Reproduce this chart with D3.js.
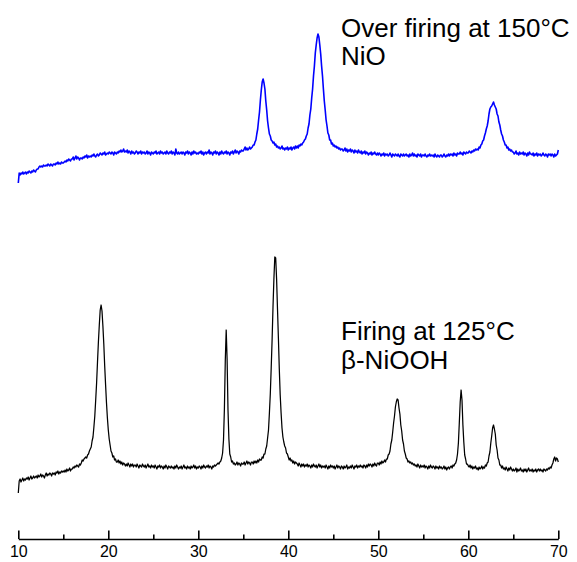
<!DOCTYPE html>
<html>
<head>
<meta charset="utf-8">
<script src="https://cdn.jsdelivr.net/npm/d3@7"></script>
<style>
  html, body { margin: 0; padding: 0; background: #fff; }
  svg { display: block; }
  text { font-family: "Liberation Sans", Arial, Helvetica, sans-serif; }
</style>
</head>
<body>
<svg id="chart" width="577" height="562"></svg>
<script>
// ---- Data (2θ grid: 10° to 70°, step 0.1°) ----
const twoThetaStart = 10;
const twoThetaStep = 0.1;

// β-NiOOH, firing at 125 °C (intensity, a.u.)
const niooh125 = [
  7,19,21,18,20,22,19,21,20,22,
  21,23,20,22,24,21,22,24,22,23,
  24,22,25,23,24,26,23,25,24,22,
  25,27,24,26,25,27,26,24,27,26,
  27,25,28,27,29,26,28,27,29,28,
  29,28,30,28,31,29,30,32,29,31,
  31,33,32,34,33,35,34,33,36,35,
  37,40,39,41,42,43,42,45,46,49,
  51,53,59,63,73,84,100,117,138,158,
  175,190,195,189,174,156,134,115,97,82,
  70,61,55,49,47,43,44,40,41,38,
  38,40,37,39,36,38,35,37,36,34,
  36,34,37,35,33,36,34,36,33,35,
  35,33,36,34,32,35,34,33,36,34,
  33,35,32,34,36,33,34,32,35,33,
  34,32,35,33,31,34,33,35,32,34,
  33,31,34,32,35,33,31,34,33,32,
  34,32,33,31,34,32,35,33,31,33,
  32,34,31,33,35,32,33,31,34,32,
  33,31,34,32,33,35,32,34,31,33,
  32,34,33,31,34,32,35,33,32,34,
  33,35,32,34,33,31,34,33,35,34,
  35,36,37,36,38,39,42,47,60,91,
  140,170,141,90,61,46,43,38,39,36,
  37,35,36,38,35,37,36,34,37,36,
  36,38,35,37,39,36,38,37,35,38,
  38,36,39,37,39,37,40,38,41,40,
  40,43,42,46,46,51,54,62,70,87,
  106,132,160,193,221,243,242,221,191,162,
  131,105,87,72,63,58,54,52,47,46,
  43,40,42,39,40,37,39,36,38,37,
  36,34,37,35,33,36,34,36,33,35,
  34,36,33,35,34,32,35,33,36,34,
  33,35,32,34,36,33,35,32,34,33,
  34,32,35,33,31,34,32,35,33,34,
  32,34,31,33,35,32,34,33,31,34,
  33,31,34,32,33,35,31,33,32,34,
  32,35,33,31,34,33,35,32,34,33,
  35,33,34,32,35,34,32,35,33,36,
  34,36,35,33,36,34,37,35,34,37,
  37,35,38,36,39,37,38,40,38,41,
  41,45,46,49,56,60,68,77,84,93,
  98,101,100,92,86,75,69,60,56,49,
  46,42,41,38,39,37,38,36,37,35,
  36,34,35,33,36,34,32,35,33,34,
  33,35,32,34,33,31,34,32,35,33,
  32,34,33,31,34,32,33,31,34,32,
  33,31,32,34,31,33,30,32,33,31,
  33,34,32,35,34,36,37,40,46,57,
  77,98,110,100,75,58,45,41,36,36,
  34,33,35,32,34,31,33,32,34,31,
  32,30,33,31,32,34,31,33,32,35,
  34,37,38,44,48,57,64,72,75,71,
  66,55,50,42,40,35,35,32,34,31,
  32,30,33,31,29,32,30,33,31,29,
  31,29,30,32,28,31,29,30,32,29,
  30,28,31,29,31,28,30,32,29,30,
  29,31,28,30,29,31,28,30,31,29,
  31,29,30,28,31,30,29,31,30,32,
  31,33,32,35,37,41,43,39,42,41,
  38
];

// NiO, over firing at 150 °C (intensity, a.u.)
const nio150 = [
  17,27,25,27,26,28,26,27,28,26,
  28,27,29,28,27,29,28,30,29,28,
  30,31,31,33,34,33,34,33,35,34,
  34,35,34,36,35,34,36,35,34,36,
  36,35,37,36,38,36,37,36,38,37,
  37,38,39,38,40,39,41,40,39,41,
  41,43,40,42,44,41,43,42,40,42,
  42,41,43,42,44,43,45,42,44,43,
  44,43,45,44,46,44,43,45,46,44,
  45,47,46,45,47,46,48,45,46,47,
  46,48,47,46,48,47,45,48,47,46,
  48,47,49,48,50,48,49,51,48,49,
  48,50,47,49,48,46,49,47,48,46,
  47,49,48,46,48,47,49,46,48,47,
  48,46,47,49,46,48,47,45,48,47,
  46,48,47,49,46,47,48,46,49,47,
  48,46,47,48,46,49,47,46,48,47,
  49,46,48,47,45,51,47,46,48,46,
  47,48,46,48,47,45,48,47,49,46,
  48,47,45,48,46,49,47,48,46,47,
  46,48,47,49,46,48,45,47,48,46,
  48,47,50,46,48,47,45,48,47,49,
  46,48,47,45,48,46,49,47,46,48,
  47,49,46,48,47,45,48,47,49,46,
  48,50,47,49,48,46,49,48,50,49,
  49,51,53,50,52,50,51,53,51,52,
  53,55,55,58,60,66,71,80,88,100,
  110,118,121,117,111,99,90,79,72,66,
  64,60,59,57,58,55,56,53,54,52,
  53,51,52,54,51,52,50,52,51,53,
  50,52,51,53,50,52,53,51,54,52,
  54,52,55,54,56,55,57,58,60,61,
  64,66,72,76,85,91,102,111,124,134,
  147,155,162,166,163,155,146,134,124,111,
  99,90,80,74,67,65,60,60,56,57,
  54,55,53,54,52,53,51,52,50,51,
  51,49,50,52,49,51,48,50,49,51,
  48,50,49,47,50,48,49,47,50,48,
  47,49,46,48,47,49,46,48,47,45,
  47,46,48,45,47,46,48,46,45,47,
  45,47,46,44,46,45,47,44,46,45,
  46,44,45,47,45,43,46,45,44,46,
  45,44,46,44,43,46,45,44,46,44,
  45,46,44,45,43,46,44,45,47,44,
  46,44,45,43,46,45,44,46,43,45,
  45,44,46,44,43,45,44,46,44,45,
  44,45,43,46,44,43,45,44,43,45,
  45,43,44,46,44,43,45,44,46,44,
  46,45,46,44,47,45,46,44,47,46,
  46,48,46,47,45,48,47,46,48,47,
  47,49,48,47,49,48,50,49,51,50,
  51,50,53,52,55,56,59,60,64,67,
  71,74,79,86,91,93,94,96,98,95,
  93,91,86,84,78,75,70,66,64,60,
  58,55,55,52,53,50,51,49,50,48,
  48,46,47,49,46,47,45,48,46,47,
  46,48,45,47,46,44,47,45,48,46,
  46,45,47,44,46,45,47,44,46,45,
  46,44,45,47,45,44,46,45,43,46,
  45,46,44,46,45,43,46,44,45,46,
  50
];

const seriesNames = ["niooh125", "nio150"];
const seriesOffsets = [0, 300];          // vertical stacking offsets (a.u.)
const seriesColors = ["#000000", "#0000ff"];
const seriesWidths = [1.25, 1.6];
const seriesLabels = [
  ["Firing at 125°C", "β-NiOOH"],
  ["Over firing at 150°C", "NiO"]
];
const majorTicks = [10, 20, 30, 40, 50, 60, 70];
const minorTicks = [15, 25, 35, 45, 55, 65];

// ---- Drawing ----
const svg = d3.select("#chart");

const x = d3.scaleLinear().domain([10, 70]).range([18.3, 558.3]);
const y = d3.scaleLinear().domain([0, 500]).range([500, 0]);

const allSeries = [niooh125, nio150];

allSeries.forEach((vals, s) => {
  const line = d3.line()
    .x((d, i) => x(twoThetaStart + i * twoThetaStep))
    .y(d => y(d + seriesOffsets[s]));
  svg.append("path")
    .datum(vals)
    .attr("fill", "none")
    .attr("stroke", seriesColors[s])
    .attr("stroke-width", seriesWidths[s])
    .attr("stroke-linejoin", "round")
    .attr("d", line);
});

// Axis
const axisY = 539;
const gMajor = svg.append("g")
  .attr("transform", `translate(0,${axisY})`)
  .call(d3.axisBottom(x)
    .tickValues(majorTicks)
    .tickSizeInner(-8.5)
    .tickSizeOuter(0)
    .tickPadding(7)
    .tickFormat(d3.format("d")));
gMajor.select(".domain").attr("stroke", "#000").attr("stroke-width", 1.6);
gMajor.selectAll(".tick line").attr("stroke", "#000").attr("stroke-width", 1.6);
gMajor.selectAll(".tick text")
  .attr("fill", "#000")
  .style("font-size", "16px")
  .style("font-family", "'Liberation Sans', Arial, sans-serif");

const gMinor = svg.append("g")
  .attr("transform", `translate(0,${axisY})`)
  .call(d3.axisBottom(x)
    .tickValues(minorTicks)
    .tickSizeInner(-4.5)
    .tickSizeOuter(0)
    .tickFormat(""));
gMinor.select(".domain").remove();
gMinor.selectAll(".tick line").attr("stroke", "#000").attr("stroke-width", 1.6);

// Labels
const labelPos = [
  { x: 341, y: [340, 368.5] },
  { x: 341, y: [36.7, 65] }
];
seriesLabels.forEach((lines, s) => {
  lines.forEach((t, k) => {
    svg.append("text")
      .attr("x", labelPos[s].x)
      .attr("y", labelPos[s].y[k])
      .attr("fill", "#000")
      .style("font-size", "26px")
      .text(t);
  });
});
</script>
</body>
</html>
